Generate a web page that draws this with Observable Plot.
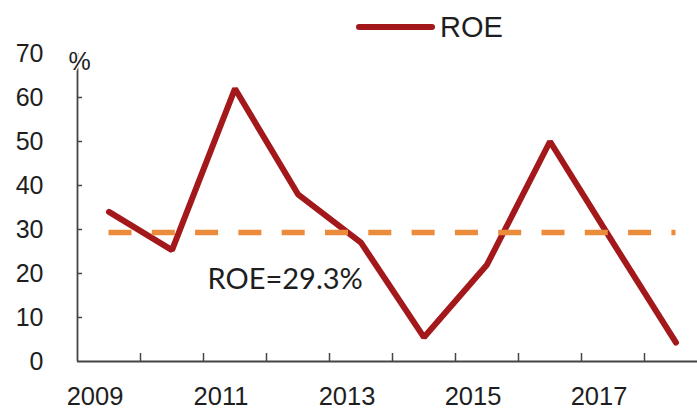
<!DOCTYPE html>
<html>
<head>
<meta charset="utf-8">
<script src="https://cdn.jsdelivr.net/npm/d3@7"></script>
<script src="https://cdn.jsdelivr.net/npm/@observablehq/plot@0.6"></script>
<style>
  html, body { margin: 0; padding: 0; background: white; }
  #wrap { position: relative; width: 697px; height: 410px; overflow: hidden; }
  #legend { position: absolute; left: 0; top: 0; width: 697px; height: 60px; pointer-events: none; }
</style>
</head>
<body>
<div id="wrap"></div>
<script>
// ---- data ----
const years = [2009, 2010, 2011, 2012, 2013, 2014, 2015, 2016, 2017, 2018];
const roe = [34, 25.3, 62, 38, 27, 5.5, 22, 50, 27, 4.3];
const avgRoe = 29.3;
const yTicks = [0, 10, 20, 30, 40, 50, 60, 70];
const labelYears = [2009, 2011, 2013, 2015, 2017];
const xDomain = [2008.5, 2018.5];
const boundaryTicks = [2009.5, 2010.5, 2011.5, 2012.5, 2013.5, 2014.5, 2015.5, 2016.5, 2017.5];
const seriesName = "ROE";
const unitLabel = "%";
const avgLabel = `ROE=${avgRoe}%`;

const red = "#A3181A";
const orange = "#EB8B3C";
const axisColor = "#454545";
const textColor = "#1e1e1e";

const chart = Plot.plot({
  width: 697,
  height: 410,
  marginLeft: 77,
  marginRight: 0,
  marginTop: 53,
  marginBottom: 49,
  x: { domain: xDomain, range: [77, 707] },
  y: { domain: [0, 70], range: [361, 53] },
  style: { fontFamily: "'Liberation Sans', Arial, sans-serif", fontSize: "25px", color: textColor, background: "white" },
  marks: [
    // y labels
    Plot.axisY(yTicks, { tickSize: 0, tickPadding: 34, label: null, fontSize: 25 }),
    // y inward ticks
    Plot.axisY(yTicks.filter(v => v > 0 && v < 70), { tickSize: 5, dx: 5, tickFormat: () => "", label: null, stroke: axisColor, strokeWidth: 1.5 }),
    // x boundary ticks (pointing up)
    Plot.axisX(boundaryTicks, { tickSize: 8, dy: -8, tickFormat: () => "", label: null, stroke: axisColor, strokeWidth: 1.5 }),
    // x labels
    Plot.axisX(labelYears, { tickSize: 0, tickPadding: 25, dx: -14, tickFormat: d => String(d), label: null, fontSize: 25.5 }),
    // axis lines
    Plot.ruleY([0], { stroke: axisColor, strokeWidth: 1.8 }),
    Plot.ruleX([xDomain[0]], { y1: 0, y2: 70, stroke: axisColor, strokeWidth: 1.8 }),
    // ROE line
    Plot.lineY(roe, { x: years, stroke: red, strokeWidth: 6, strokeLinejoin: "miter" }),
    // average dashed rule
    Plot.ruleY([avgRoe], { x1: years[0], x2: years[years.length - 1], stroke: orange, strokeWidth: 5.5, strokeDasharray: "23,20.3" }),
    // average label
    Plot.text([avgLabel], { text: d => d, x: years[1], y: avgRoe, dx: 35.5, dy: 56, textAnchor: "start", lineAnchor: "bottom", fontFamily: "Lato, 'Open Sans', sans-serif", fontSize: 29, fill: textColor }),
    // unit label
    Plot.text([unitLabel], { text: d => d, x: xDomain[0], y: 70, dx: 2, dy: 8, textAnchor: "middle", lineAnchor: "middle", fontSize: 25, fill: textColor, stroke: "white", strokeWidth: 3, paintOrder: "stroke" })
  ]
});

const wrap = document.getElementById("wrap");
wrap.appendChild(chart);

// legend overlay
const ns = "http://www.w3.org/2000/svg";
const leg = document.createElementNS(ns, "svg");
leg.setAttribute("id", "legend");
leg.setAttribute("width", 697);
leg.setAttribute("height", 60);
const ln = document.createElementNS(ns, "line");
ln.setAttribute("x1", 359); ln.setAttribute("x2", 432);
ln.setAttribute("y1", 27); ln.setAttribute("y2", 27);
ln.setAttribute("stroke", red); ln.setAttribute("stroke-width", 6);
ln.setAttribute("stroke-linecap", "round");
leg.appendChild(ln);
const tx = document.createElementNS(ns, "text");
tx.setAttribute("x", 440); tx.setAttribute("y", 37);
tx.setAttribute("font-family", "'Liberation Sans', Arial, sans-serif");
tx.setAttribute("font-size", 29);
tx.setAttribute("fill", textColor);
tx.textContent = seriesName;
leg.appendChild(tx);
wrap.appendChild(leg);
</script>
</body>
</html>
